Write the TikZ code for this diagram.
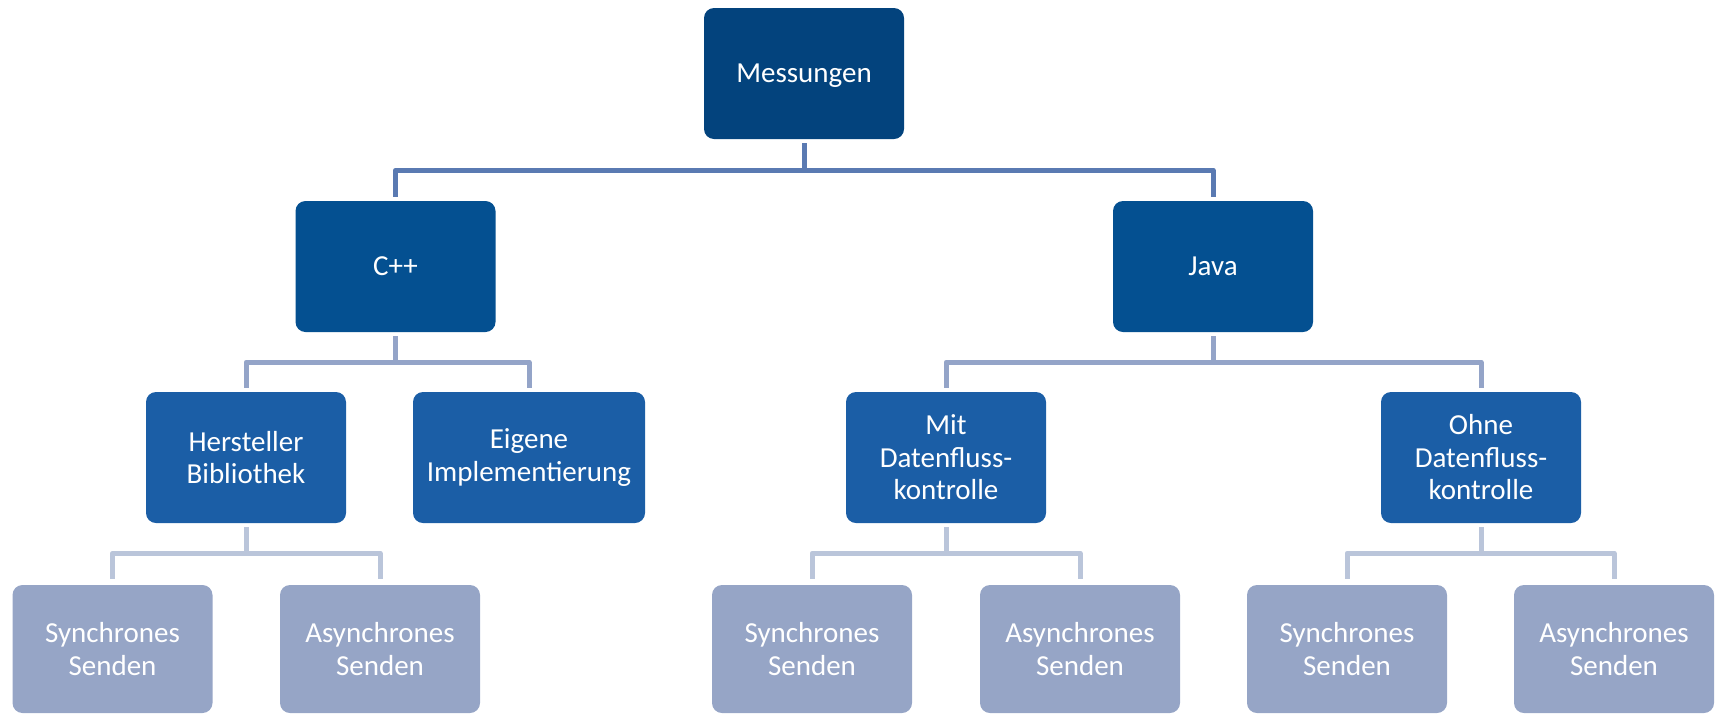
\documentclass[tikz,border=0pt]{standalone}
\usepackage{fontspec}
\setmainfont{Carlito}
\definecolor{cTop}{HTML}{03437D}
\definecolor{cTwo}{HTML}{045091}
\definecolor{cThree}{HTML}{1B5EA6}
\definecolor{cFour}{HTML}{96A5C6}
\definecolor{lOne}{HTML}{5A7AB2}
\definecolor{lTwo}{HTML}{94A4C8}
\definecolor{lThree}{HTML}{BAC5DA}
\tikzset{
  box/.style={rectangle, rounded corners=10pt, inner sep=0pt, align=center,
    text=white, font=\fontsize{29}{32.5}\selectfont,
    minimum width=200pt, minimum height=131pt},
  lvlA/.style={box, fill=cTop, text depth=0pt},
  lvlB/.style={box, fill=cTwo, text depth=0pt},
  lvlC/.style={box, fill=cThree},
  lvlD/.style={box, fill=cFour, minimum height=128pt},
  conn/.style={line width=5pt, line join=round, shorten <=4pt, shorten >=4pt},
}
\begin{document}
\begin{tikzpicture}[x=1pt,y=-1pt]
\useasboundingbox (0,0) rectangle (1719,713);
\clip (0,0) rectangle (1719,713);
% nodes
\node[lvlA] (M) at (804,73.5) {Messungen};
\node[lvlB] (C) at (395.5,266.5) {C++};
\node[lvlB] (J) at (1213,266.5) {Java};
\node[lvlC] (H) at (246,457.5) {Hersteller\\Bibliothek};
\node[lvlC, minimum width=232pt] (E) at (529,457.5) {Eigene\\Implementierung};
\node[lvlC] (Mi) at (946,457.5) {Mit\\Datenfluss-\\kontrolle};
\node[lvlC] (O) at (1481,457.5) {Ohne\\Datenfluss-\\kontrolle};
\node[lvlD] (S1) at (112.5,649) {Synchrones\\Senden};
\node[lvlD] (A1) at (380,649) {Asynchrones\\Senden};
\node[lvlD] (S2) at (812,649) {Synchrones\\Senden};
\node[lvlD] (A2) at (1080,649) {Asynchrones\\Senden};
\node[lvlD] (S3) at (1347,649) {Synchrones\\Senden};
\node[lvlD] (A3) at (1614,649) {Asynchrones\\Senden};
% connectors
\draw[conn, lOne] (M.south) -- ++(0,31) -| (C.north);
\draw[conn, lOne] (M.south) -- ++(0,31) -| (J.north);
\draw[conn, lTwo] (C.south) -- ++(0,30) -| (H.north);
\draw[conn, lTwo] (C.south) -- ++(0,30) -| (E.north);
\draw[conn, lTwo] (J.south) -- ++(0,30) -| (Mi.north);
\draw[conn, lTwo] (J.south) -- ++(0,30) -| (O.north);
\draw[conn, lThree, shorten >=6pt] (H.south) -- ++(0,30) -| (S1.north);
\draw[conn, lThree, shorten >=6pt] (H.south) -- ++(0,30) -| (A1.north);
\draw[conn, lThree, shorten >=6pt] (Mi.south) -- ++(0,30) -| (S2.north);
\draw[conn, lThree, shorten >=6pt] (Mi.south) -- ++(0,30) -| (A2.north);
\draw[conn, lThree, shorten >=6pt] (O.south) -- ++(0,30) -| (S3.north);
\draw[conn, lThree, shorten >=6pt] (O.south) -- ++(0,30) -| (A3.north);
\end{tikzpicture}
\end{document}
